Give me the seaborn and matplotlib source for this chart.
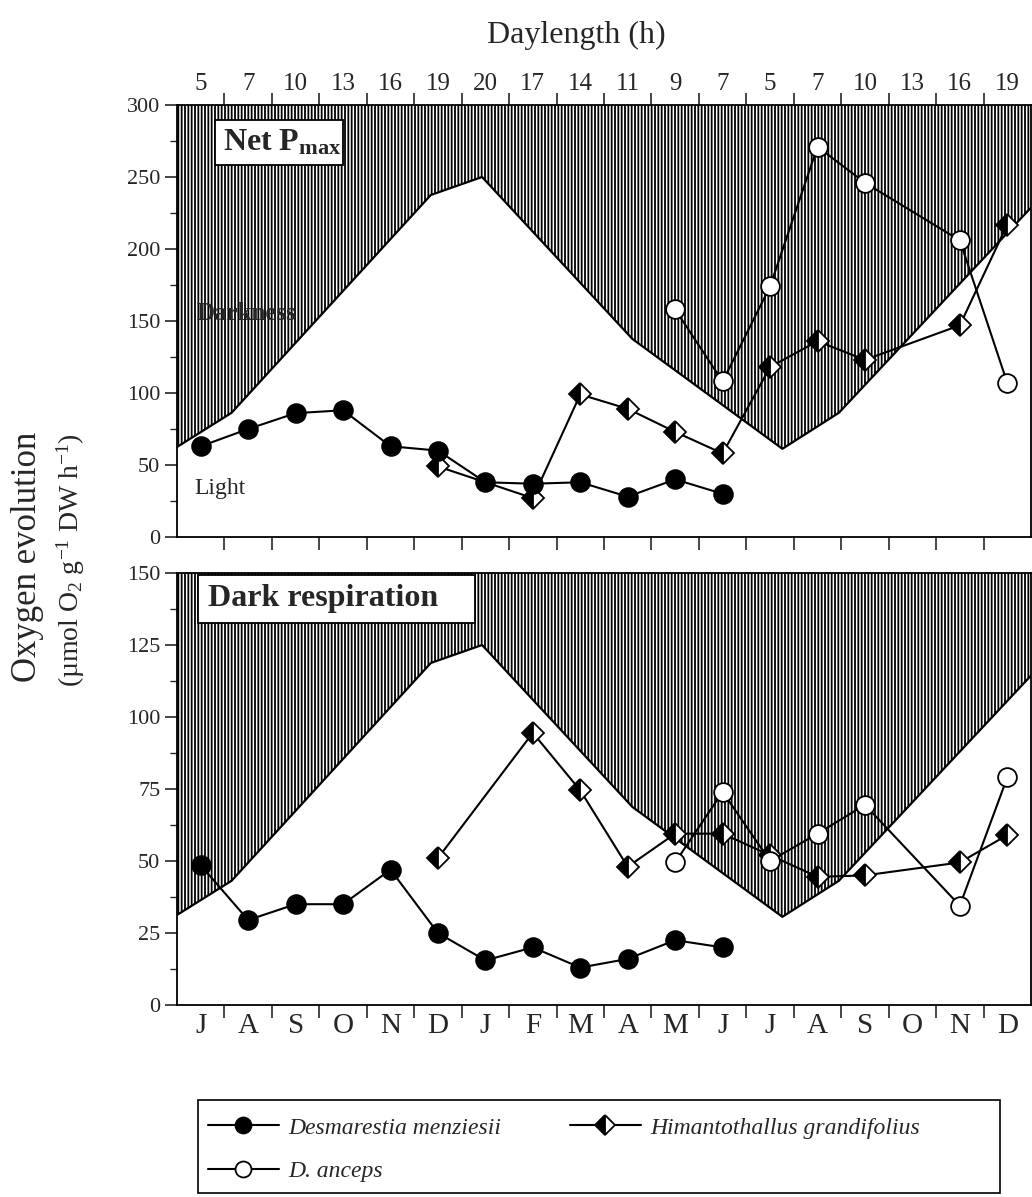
import numpy as np
import pandas as pd
import matplotlib
matplotlib.use("Agg")
import matplotlib.pyplot as plt
import seaborn as sns
from matplotlib.ticker import MultipleLocator
from matplotlib.patches import Rectangle

# ---------------- data ----------------
months = ["J", "A", "S", "O", "N", "D", "J", "F", "M", "A", "M", "J",
          "J", "A", "S", "O", "N", "D"]
daylength_labels = [5, 7, 10, 13, 16, 19, 20, 17, 14, 11, 9, 7,
                    5, 7, 10, 13, 16, 19]

# daylength boundary (position in months from start, hours of light)
dl_pos = [0.0, 1.15, 5.35, 6.43, 9.6, 12.76, 13.95, 18.0]
dl_hours = [5.0, 6.9, 19.0, 20.0, 11.0, 4.9, 6.9, 18.3]

dm_months = [0, 1, 2, 3, 4, 5, 6, 7, 8, 9, 10, 11]
dm_pmax = [63, 75, 86, 88, 63, 60, 38, 37, 38, 28, 40, 30]
dm_resp = [48.5, 29.5, 35, 35, 47, 25, 15.5, 20, 13, 16, 22.5, 20]

hg_months = [5, 7, 8, 9, 10, 11, 12, 13, 14, 16, 17]
hg_pmax = [49, 27, 99, 89, 73, 58, 118, 136, 123, 147, 217]
hg_resp = [51, 94.5, 74.5, 48, 59.5, 59.5, 52, 44.5, 45, 49.5, 59]

da_months = [10, 11, 12, 13, 14, 16, 17]
da_pmax = [158, 108, 174, 271, 246, 206, 107]
da_resp = [49.5, 74, 50, 59.5, 69.5, 34.5, 79]

# ---------------- style ----------------
sns.set_theme(style="ticks")
plt.rcParams["font.family"] = ["Liberation Serif", "DejaVu Serif"]
plt.rcParams["mathtext.fontset"] = "custom"
plt.rcParams["mathtext.rm"] = "Liberation Serif"
plt.rcParams["mathtext.it"] = "Liberation Serif:italic"
plt.rcParams["mathtext.bf"] = "Liberation Serif:bold"
plt.rcParams["hatch.linewidth"] = 1.3
plt.rcParams["axes.linewidth"] = 1.3

FW, FH = 1032, 1197
fig = plt.figure(figsize=(FW / 100, FH / 100), dpi=100)
L = 177 / FW
W = 854 / FW
ax1 = fig.add_axes([L, 1 - 537 / FH, W, 432 / FH])
ax2 = fig.add_axes([L, 1 - 1005 / FH, W, 432 / FH])


def frame(idx, vals):
    return pd.DataFrame({"pos": np.asarray(idx) + 0.5, "value": vals})


def draw_panel(ax, dm, hg, da, ymax, scale):
    dl = pd.DataFrame({"pos": dl_pos, "level": np.asarray(dl_hours) * scale})
    ax.fill_between(dl["pos"], dl["level"], ymax, facecolor="white",
                    edgecolor="black", hatch="|||||", linewidth=0, zorder=1)
    sns.lineplot(data=dl, x="pos", y="level", ax=ax, color="black",
                 lw=1.6, sort=False, errorbar=None, zorder=2)
    common = dict(x="pos", y="value", ax=ax, color="black", lw=1.5,
                  errorbar=None, sort=False, markeredgecolor="black",
                  markeredgewidth=1.3)
    sns.lineplot(data=frame(hg_months, hg), marker="D", markersize=11.5,
                 fillstyle="left", markerfacecolor="black",
                 markerfacecoloralt="white", label="Himantothallus grandifolius",
                 zorder=4, **common)
    sns.lineplot(data=frame(da_months, da), marker="o", markersize=13.5,
                 markerfacecolor="white", label="D. anceps", zorder=5,
                 **common)
    sns.lineplot(data=frame(dm_months, dm), marker="o", markersize=13.5,
                 markerfacecolor="black", label="Desmarestia menziesii",
                 zorder=6, **common)
    ax.set_xlim(0, 18)
    ax.set_ylim(0, ymax)
    ax.set_xlabel("")
    ax.set_ylabel("")
    ax.set_xticks(np.arange(1, 18))
    ax.set_xticks(np.arange(18) + 0.5, minor=True)
    ax.tick_params(axis="y", which="major", direction="out", length=9,
                   width=1.2, labelsize=16, pad=3)
    ax.tick_params(axis="y", which="minor", direction="out", length=5,
                   width=1.0)
    for s in ax.spines.values():
        s.set_color("black")
        s.set_linewidth(1.3)
        s.set_zorder(7)
    leg = ax.get_legend()
    if leg is not None:
        leg.remove()


draw_panel(ax1, dm_pmax, hg_pmax, da_pmax, 300, 12.5)
draw_panel(ax2, dm_resp, hg_resp, da_resp, 150, 6.25)

ax1.yaxis.set_major_locator(MultipleLocator(50))
ax1.yaxis.set_minor_locator(MultipleLocator(25))
ax2.yaxis.set_major_locator(MultipleLocator(25))
ax2.yaxis.set_minor_locator(MultipleLocator(12.5))

# top panel x ticks: boundaries top and bottom, daylength labels on top
ax1.set_xticklabels([])
ax1.set_xticklabels([str(v) for v in daylength_labels], minor=True)
ax1.tick_params(axis="x", which="major", top=True, bottom=True,
                direction="out", length=9, width=1.2,
                labeltop=False, labelbottom=False)
ax1.tick_params(axis="x", which="minor", top=True, bottom=False, length=0,
                labeltop=True, labelbottom=False, labelsize=18, pad=7)

# bottom panel x ticks: month labels
ax2.set_xticklabels([])
ax2.set_xticklabels(months, minor=True)
ax2.tick_params(axis="x", which="major", bottom=True, top=False,
                direction="out", length=9, width=1.2, labelbottom=False)
ax2.tick_params(axis="x", which="minor", bottom=True, length=0,
                labelbottom=True, labelsize=21, pad=6)

# panel title boxes
ax1.add_patch(Rectangle((0.0445, 0.861), 0.1495, 0.104, transform=ax1.transAxes,
                        facecolor="white", edgecolor="black", lw=1.3, zorder=8))
ax1.text(0.054, 0.912, r"Net P$_{\mathbf{max}}$", transform=ax1.transAxes,
         fontsize=23, fontweight="bold", va="center", ha="left", zorder=9)
ax2.add_patch(Rectangle((0.0246, 0.884), 0.3244, 0.111, transform=ax2.transAxes,
                        facecolor="white", edgecolor="black", lw=1.3, zorder=8))
ax2.text(0.036, 0.94, "Dark respiration", transform=ax2.transAxes,
         fontsize=23, fontweight="bold", va="center", ha="left", zorder=9)

ax1.text(0.42, 155, "Darkness", fontsize=18, fontweight="bold",
         va="center", ha="left", zorder=3)
ax1.text(0.36, 34, "Light", fontsize=17, va="center", ha="left", zorder=3)

# titles / axis labels
fig.text(576 / FW, 1 - 35 / FH, "Daylength (h)", fontsize=23,
         ha="center", va="center")
fig.text(28 / FW, 1 - 557 / FH, "Oxygen evolution", fontsize=25,
         rotation=90, ha="center", va="center")
fig.text(71 / FW, 1 - 560 / FH,
         "(\u00b5mol O$_2$ g$^{-1}$ DW h$^{-1}$)", fontsize=20,
         rotation=90, ha="center", va="center")

# legend (frame drawn separately to match the wide box)
fig.patches.append(Rectangle((198 / FW, 1 - 1193 / FH), 802 / FW, 93 / FH,
                             transform=fig.transFigure, facecolor="none",
                             edgecolor="black", lw=1.2))
h, lab = ax2.get_legend_handles_labels()
lookup = dict(zip(lab, h))
order = ["Desmarestia menziesii", "D. anceps", "Himantothallus grandifolius"]
leg = fig.legend([lookup[k] for k in order], order, ncol=2, loc="upper left",
                 bbox_to_anchor=(208 / FW, 1 - 1117 / FH), frameon=False,
                 borderaxespad=0, borderpad=0,
                 prop={"family": "Liberation Serif", "style": "italic",
                       "size": 17},
                 handlelength=3.0, handletextpad=0.4, columnspacing=2.9,
                 labelspacing=0.95, markerscale=0.85)

fig.savefig("out.png", dpi=100)
